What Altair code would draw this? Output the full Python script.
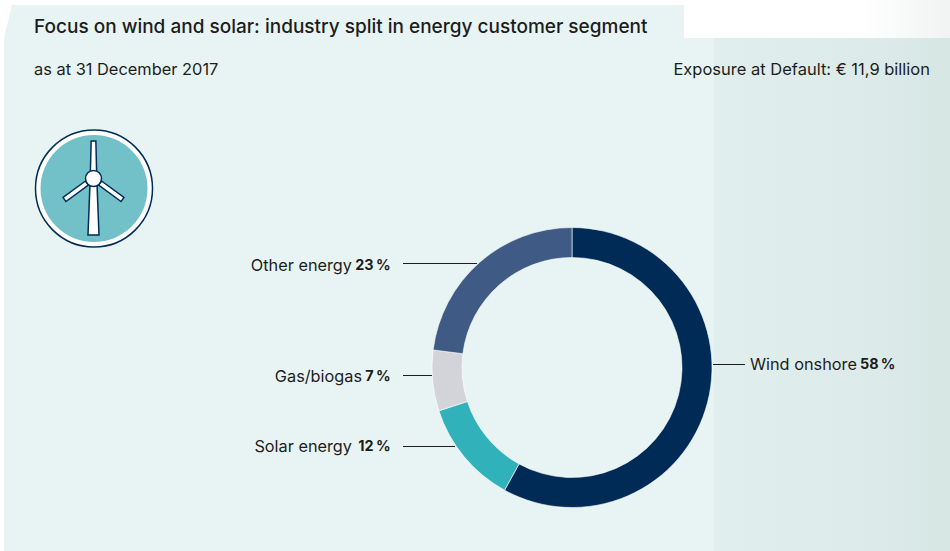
import altair as alt
import pandas as pd

# Exposure shares, clockwise from twelve o'clock
segments = ["Wind onshore", "Solar energy", "Gas/biogas", "Other energy"]
shares = [58, 12, 7, 23]
percent_labels = ["58\u2009%", "12\u2009%", "7\u2009%", "23\u2009%"]
ring_colors = ["#002b57", "#31b2bb", "#d2d4da", "#3f5a85"]

# Label anchors and leader lines per segment
name_x = [750, 352, 362, 352]
pct_x = [860, 390.5, 390.5, 390.5]
label_y = [364.5, 446.5, 377, 266]
leader_y = [364.5, 446.5, 375.5, 263.5]
leader_x1 = [713, 403, 403, 403]
leader_x2 = [745, 455, 432, 477]
name_align = ["left", "right", "right", "right"]

FONT = "Inter"
INK = "#1d1d1b"
NAVY = "#002b57"
PALE = "#e8f4f4"
W, H = 950, 551
CX, CY = 572, 367.5

donut = pd.DataFrame({"segment": segments, "share": shares, "rank": range(4)})
labels = pd.DataFrame({
    "name": segments, "pct": percent_labels,
    "nx": name_x, "px": pct_x, "y": label_y, "ly": leader_y,
    "lx1": leader_x1, "lx2": leader_x2, "nalign": name_align,
})

base = alt.Chart(donut)
one = alt.Chart(pd.DataFrame({"k": [0]}))


def glyph(path, x, y, scale, **style):
    # Custom symbol paths are drawn at sqrt(size) / 2 pixels per path unit
    return one.mark_point(shape=path, size=4 * scale * scale, opacity=1, **style).encode(
        x=alt.value(x), y=alt.value(y))


def caption(text, x, y, size, align="left", weight=400):
    return one.mark_text(text=text, font=FONT, fontSize=size, fontWeight=weight,
                         color=INK, align=align, baseline="middle").encode(
        x=alt.value(x), y=alt.value(y))


def sheet(x, x2, y, y2, fill):
    return one.mark_rect(fill=fill).encode(
        x=alt.value(x), x2=alt.value(x2), y=alt.value(y), y2=alt.value(y2))


def side_fade(*stops):
    return alt.Gradient(
        gradient="linear", x1=0, x2=1, y1=0, y2=0,
        stops=[alt.GradientStop(offset=o, color=c) for o, c in stops])


# Backdrop panels
panel = sheet(4, 714, 38, 551, PALE)
tab = sheet(12, 684, 5, 38, PALE)
corner = glyph("M4 -17 L4 16.5 L-4 16.5 Z", 8, 21.5, 1, filled=True, fill=PALE, stroke=None)
side = sheet(714, 950, 38, 551, side_fade((0, "#e0efed"), (0.7, "#dcebe9"), (1, "#d6e6e3")))
top_fade = sheet(860, 950, 0, 38, side_fade((0, "#ffffff"), (1, "#f1f3f3")))

# Wind turbine emblem
EDGE = dict(filled=True, fill="#ffffff", stroke=NAVY, strokeWidth=1.5)
disc_outer = glyph("circle", 94, 188.5, 58.5, **EDGE)
disc_inner = glyph("circle", 94, 188.5, 53.5, filled=True, fill="#72c0c8", stroke=None)
tower = glyph("M-0.05 -1 L0.05 -1 L0.07 -0.2 L0.117 1 L-0.117 1 L-0.07 -0.2 Z", 93.5, 188, 47, **EDGE)
blade_r = glyph("M-0.44 -0.53 L0.88 0.44 L0.71 0.68 L-0.61 -0.29 Z", 109, 190, 17, **EDGE)
blade_l = glyph("M0.44 -0.53 L-0.88 0.44 L-0.71 0.68 L0.61 -0.29 Z", 78, 190, 17, **EDGE)
hub = glyph("circle", 93.5, 178.5, 8, **EDGE)

# Donut ring
ring = base.mark_arc(radius=140, radius2=110, stroke="#ffffff", strokeWidth=0.6).encode(
    theta=alt.Theta("share:Q", stack=True),
    order=alt.Order("rank:Q"),
    color=alt.Color("segment:N", scale=alt.Scale(domain=segments, range=ring_colors), legend=None),
    x=alt.value(CX), y=alt.value(CY),
)

# Leader lines and labels, one group per segment
label_layers = []
for row in labels.itertuples():
    label_layers.append(one.mark_rule(stroke=INK, strokeWidth=1).encode(
        x=alt.value(row.lx1), x2=alt.value(row.lx2), y=alt.value(row.ly)))
    label_layers.append(caption(row.name, row.nx, row.y, 16.3, align=row.nalign))
    label_layers.append(caption(row.pct, row.px, row.y, 14.4, align=row.nalign, weight=700))

chart = alt.layer(
    panel, tab, corner, side, top_fade,
    disc_outer, disc_inner, tower, blade_r, blade_l, hub,
    ring, *label_layers,
    caption("Focus on wind and solar: industry split in energy customer segment", 34, 26.5, 19, weight=500),
    caption("as at 31 December 2017", 34, 70, 16.4),
    caption("Exposure at Default: € 11,9 billion", 930, 70, 16.5, align="right"),
).properties(
    width=W, height=H, padding=0, background="#ffffff",
    autosize=alt.AutoSizeParams(type="none"),
).configure_view(stroke=None)

chart.save("out.html", embed_options={"renderer": "svg", "actions": False})
